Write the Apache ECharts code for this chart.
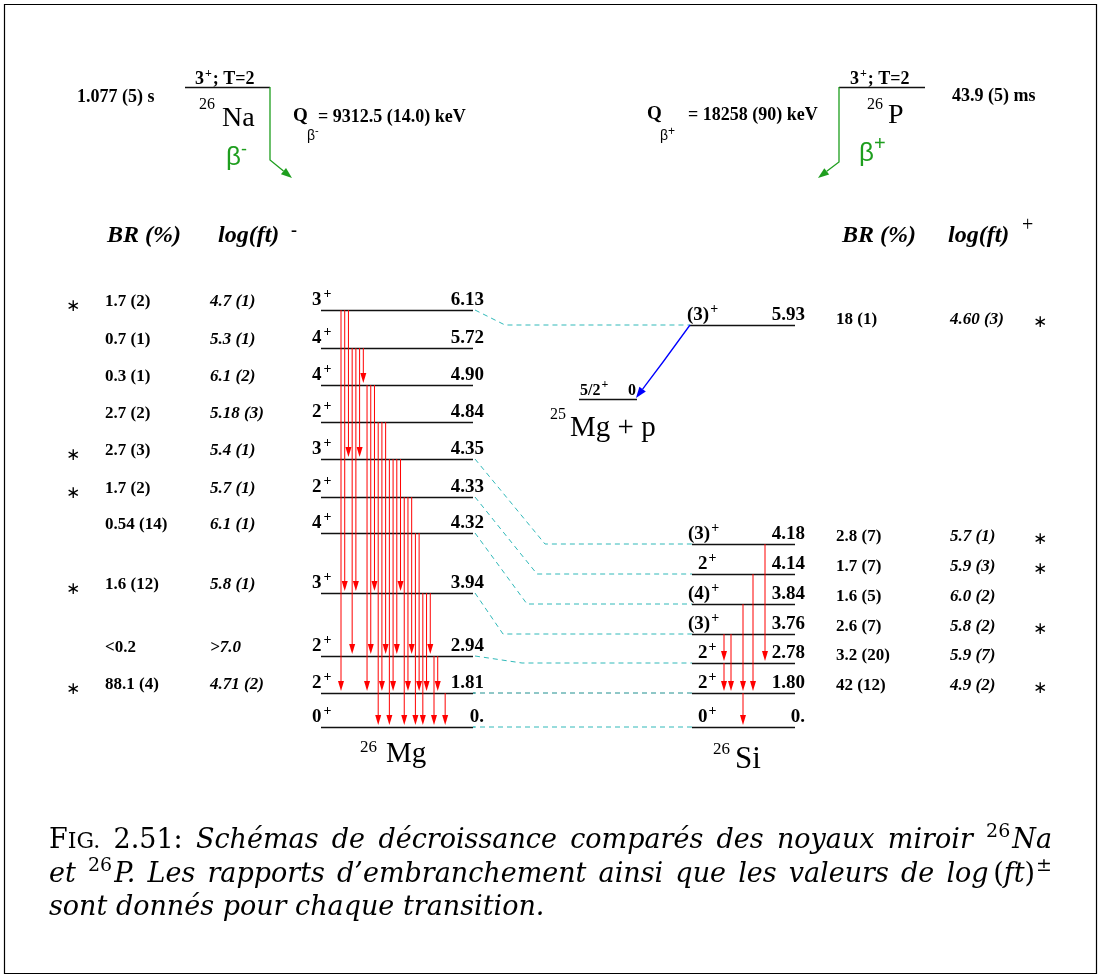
<!DOCTYPE html>
<html><head><meta charset="utf-8"><title>26Na / 26P mirror decay schemes</title>
<script src="https://cdn.jsdelivr.net/npm/echarts@6.0.0/dist/echarts.min.js"></script>
<style>html,body{margin:0;padding:0;background:#fff;}#chart{width:1101px;height:976px;}</style>
</head><body><div id="chart"></div>
<script>
// ================= DATA =================
const naHalfLife = '1.077 (5) s';
const pHalfLife = '43.9 (5) ms';
const naQvalue = '= 9312.5 (14.0) keV';
const pQvalue = '= 18258 (90) keV';
const parentJ = '3';
const parentT = '; T=2';

const mgEnergies = ['6.13','5.72','4.90','4.84','4.35','4.33','4.32','3.94','2.94','1.81','0.'];
const mgSpins    = ['3','4','4','2','3','2','4','3','2','2','0'];
const naBR    = ['1.7 (2)','0.7 (1)','0.3 (1)','2.7 (2)','2.7 (3)','1.7 (2)','0.54 (14)','1.6 (12)','<0.2','88.1 (4)'];
const naLogft = ['4.7 (1)','5.3 (1)','6.1 (2)','5.18 (3)','5.4 (1)','5.7 (1)','6.1 (1)','5.8 (1)','>7.0','4.71 (2)'];
const naStar  = [1,0,0,0,1,1,0,1,0,1];
const mgGammas = [
  ['6.13','1.81'],['6.13','3.94'],['6.13','4.35'],
  ['5.72','2.94'],['5.72','3.94'],['5.72','4.35'],['5.72','4.90'],
  ['4.90','1.81'],['4.90','2.94'],['4.90','3.94'],
  ['4.84','0.'],['4.84','1.81'],['4.84','2.94'],
  ['4.35','0.'],['4.35','1.81'],['4.35','2.94'],['4.35','3.94'],
  ['4.33','0.'],['4.33','1.81'],['4.33','2.94'],
  ['4.32','0.'],['4.32','1.81'],
  ['3.94','0.'],['3.94','1.81'],['3.94','2.94'],
  ['2.94','0.'],['2.94','1.81'],
  ['1.81','0.']
];

const siEnergies = ['4.18','4.14','3.84','3.76','2.78','1.80','0.'];
const siSpins    = ['(3)','2','(4)','(3)','2','2','0'];
const pBR    = ['2.8 (7)','1.7 (7)','1.6 (5)','2.6 (7)','3.2 (20)','42 (12)'];
const pLogft = ['5.7 (1)','5.9 (3)','6.0 (2)','5.8 (2)','5.9 (7)','4.9 (2)'];
const pStar  = [1,1,0,1,0,1];
const siGammas = [['4.18','2.78'],['4.14','1.80'],['3.84','1.80'],['3.76','1.80'],['3.76','2.78'],['2.78','1.80'],['1.80','0.']];

const unboundE = '5.93', unboundJ = '(3)', unboundBR = '18 (1)', unboundLogft = '4.60 (3)', unboundStar = 1;
const finalJ = '5/2', finalE = '0';
const mirrorPairs = [['6.13','5.93'],['4.35','4.18'],['4.33','4.14'],['4.32','3.84'],['3.94','3.76'],['2.94','2.78'],['1.81','1.80'],['0.','0.']];

const captionFig   = ['F','IG.','2.51:'];
const captionLine1 = 'Schémas de décroissance comparés des noyaux miroir';
const captionNuc1  = ['26','Na'];
const captionLine2a = 'et';
const captionNuc2  = ['26','P.'];
const captionLine2b = 'Les rapports d\u2019embranchement ainsi que les valeurs de';
const captionLog   = ['log','(','ft',')','\u00b1'];
const captionLine3 = 'sont donnés pour chaque transition.';

// ================= LAYOUT (schematic positions, px) =================
const mgLevelY = {'6.13':310,'5.72':348,'4.90':385,'4.84':422,'4.35':459,'4.33':497,'4.32':533,'3.94':593,'2.94':656,'1.81':693,'0.':727};
const siLevelY = {'4.18':544,'4.14':574,'3.84':604,'3.76':634,'2.78':663,'1.80':693,'0.':727};
const unboundY = 325, finalY = 399, parentY = 87;
const mgX = [321, 473], siX = [692, 795], unbX = [690, 795], finX = [579, 637];
const naParentX = [185, 270], pParentX = [839, 925];
const mgGammaX = i => 341 + 3.72 * (i + (i === mgGammas.length - 1 ? 1 : 0));
const siGammaX = [765, 753, 743, 731, 724, 724, 743];
const bendX = {'6.13':505,'4.35':545,'4.33':537,'4.32':527,'3.94':503,'2.94':522};

const SERIF = '"Liberation Serif","Times New Roman",serif';
const SANS = '"Liberation Sans",Arial,sans-serif';
const CAPF = '"DejaVu Serif",serif';
const GREEN = '#1e9e1e', RED = '#ff0000', BLUE = '#0000ff', CYAN = '#30b9b9';

// ---------- text helpers ----------
const mctx = document.createElement('canvas').getContext('2d');
function fontStr(p){ return (p.i?'italic ':'') + (p.b?'bold ':'') + p.s + 'px ' + (p.f || SERIF); }
function tw(p){ mctx.font = fontStr(p); return mctx.measureText(p.t).width; }
function runElems(px, py, parts, align){
  const ws = parts.map(p => tw(p) + (p.gap || 0));
  const total = ws.reduce((a,b)=>a+b, 0);
  let x = align === 'right' ? px - total : align === 'center' ? px - total/2 : px;
  const out = [];
  parts.forEach((p,k) => {
    out.push({type:'text', x:x, y:py - 0.34*p.s + (p.dy||0), silent:true,
      style:{text:p.t, font:fontStr(p), fill:p.c || '#000', align:'left', verticalAlign:'middle'}});
    x += ws[k];
  });
  return out;
}
const B  = (t,s,o)=>Object.assign({t,s,b:1},o||{});
const BI = (t,s,o)=>Object.assign({t,s,b:1,i:1},o||{});
const N  = (t,s,o)=>Object.assign({t,s},o||{});
const STAR = (s)=>N('\u2217',s||17,{f:'"DejaVu Sans",sans-serif'});

const texts = [];
function T(x,y,parts,align){ texts.push({x,y,parts,align:align||'left'}); }

// top-left (26Na)
T(77,103,[B(naHalfLife,18)]);
T(195,85,[B(parentJ,18,{gap:1}),B('+',12,{dy:-7,gap:1}),B(parentT,18)]);
T(199,110,[N('26',16)]); T(222,128,[N('Na',28)]);
T(293,123,[B('Q',19)]); T(307,141,[N('\u03b2',14,{f:SANS}),N('-',11,{f:SANS,dy:-6})]); T(318,123,[B(naQvalue,18)]);
T(226,167,[N('\u03b2',26,{f:SANS,c:GREEN}),N('-',18,{f:SANS,c:GREEN,dy:-11})]);
// top-right (26P)
T(647,121,[B('Q',19)]); T(660,141,[N('\u03b2',14,{f:SANS}),N('+',12,{f:SANS,dy:-5})]); T(688,121,[B(pQvalue,18)]);
T(850,85,[B(parentJ,18,{gap:1}),B('+',12,{dy:-7,gap:1}),B(parentT,18)]);
T(867,110,[N('26',16)]); T(888,125,[N('P',28)]);
T(952,102,[B(pHalfLife,18)]);
T(859,163,[N('\u03b2',26,{f:SANS,c:GREEN}),N('+',20,{f:SANS,c:GREEN,dy:-12})]);
// headers
T(107,244,[BI('BR (%)',24)]); T(218,244,[BI('log(ft)',24)]); T(291,237,[B('-',18)]);
T(842,244,[BI('BR (%)',24)]); T(948,244,[BI('log(ft)',24)]); T(1022,233,[N('+',20)]);
// 26Mg levels + 26Na table
mgEnergies.forEach((E,k)=>{
  const yb = mgLevelY[E] - 3;
  T(312,yb,[B(mgSpins[k],19,{gap:2}),B('+',14,{dy:-8})]);
  T(484,yb,[B(E,19)],'right');
  if (k < naBR.length){
    T(105,yb,[B(naBR[k],17)]);
    T(210,yb,[BI(naLogft[k],17)]);
    if (naStar[k]) T(73,yb+5,[STAR()],'center');
  }
});
// 26Si levels + 26P table
siEnergies.forEach((E,k)=>{
  const yb = siLevelY[E] - 3;
  const x0 = siSpins[k][0] === '(' ? 688 : 698;
  T(x0,yb,[B(siSpins[k],19,{gap:1}),B('+',14,{dy:-8})]);
  T(805,yb,[B(E,19)],'right');
  if (k < pBR.length){
    T(836,yb+1,[B(pBR[k],17)]);
    T(950,yb+1,[BI(pLogft[k],17)]);
    if (pStar[k]) T(1040,yb+4,[STAR()],'center');
  }
});
// unbound level
T(687,322,[B(unboundJ,19,{gap:1}),B('+',14,{dy:-8})]);
T(805,322,[B(unboundE,19)],'right');
T(836,325,[B(unboundBR,17)]); T(950,325,[BI(unboundLogft,17)]);
if (unboundStar) T(1040,328,[STAR()],'center');
T(580,396,[B(finalJ,16,{gap:1}),B('+',12,{dy:-7,gap:4})]);
T(636,396,[B(finalE,16)],'right');
T(550,420,[N('25',16)]); T(570,438,[N('Mg + p',29)]);
// nuclide names
T(360,753,[N('26',17)]); T(386,764,[N('Mg',29)]);
T(713,755,[N('26',17)]); T(735,770,[N('Si',31)]);

// ---------- caption (fit + justify) ----------
function capLines(S){
  const it = (t)=>({t, s:S, i:1, f:CAPF});
  const up = (t)=>({t, s:S, f:CAPF});
  const sc = (t)=>({t, s:Math.round(S*0.8), f:CAPF});
  const sup = (t,i)=>({t, s:Math.round(S*0.7), i:i?1:0, f:CAPF, dy:-0.42*S});
  const l1 = [[up(captionFig[0]), sc(captionFig[1])], [up(captionFig[2])]]
    .concat(captionLine1.split(' ').map(w=>[it(w)]))
    .concat([[Object.assign(sup(captionNuc1[0]),{gap:2}), it(captionNuc1[1])]]);
  const l2 = [[it(captionLine2a)], [Object.assign(sup(captionNuc2[0]),{gap:2}), it(captionNuc2[1])]]
    .concat(captionLine2b.split(' ').map(w=>[it(w)]))
    .concat([[Object.assign(it(captionLog[0]),{gap:S*0.17}), up(captionLog[1]), it(captionLog[2]), Object.assign(up(captionLog[3]),{gap:1}), sup(captionLog[4])]]);
  const l3 = captionLine3.split(' ').map(w=>[it(w)]);
  return [l1,l2,l3];
}
function tokW(tok){ return tok.reduce((a,p)=>a+tw(p)+(p.gap||0),0); }
const capLeft = 49, capRight = 1052, capBase = [850, 884, 917];
let capS = 24;
(function(){
  const l1 = capLines(100)[0];
  mctx.font = 'italic 100px ' + CAPF;
  const sp = mctx.measureText(' ').width;
  const nat = l1.reduce((a,t)=>a+tokW(t),0) + sp*(l1.length-1);
  capS = Math.min(27, 100 * (capRight - capLeft) / nat);
})();
const CAP = capLines(capS);

// ================= CHART =================
function arrowHead(tip, from, len, hw){
  const dx = tip[0]-from[0], dy = tip[1]-from[1], L = Math.hypot(dx,dy), ux = dx/L, uy = dy/L;
  const bx = tip[0]-ux*len, by = tip[1]-uy*len;
  return [[tip[0],tip[1]],[bx-uy*hw,by+ux*hw],[bx+uy*hw,by-ux*hw]];
}

const levelData = [];
mgEnergies.forEach(E=>levelData.push([mgX[0], mgLevelY[E], mgX[1]]));
siEnergies.forEach(E=>levelData.push([siX[0], siLevelY[E], siX[1]]));
levelData.push([unbX[0], unboundY, unbX[1]]);
levelData.push([finX[0], finalY, finX[1]]);
levelData.push([naParentX[0], parentY, naParentX[1]]);
levelData.push([pParentX[0], parentY, pParentX[1]]);

const gammaData = mgGammas.map((g,i)=>[mgGammaX(i), mgLevelY[g[0]], mgLevelY[g[1]]])
  .concat(siGammas.map((g,i)=>[siGammaX[i], siLevelY[g[0]], siLevelY[g[1]]]));

const connData = mirrorPairs.map(pr=>{
  const y0 = mgLevelY[pr[0]];
  const y1 = pr[1] === unboundE ? unboundY : siLevelY[pr[1]];
  const x1 = pr[1] === unboundE ? unbX[0] : siX[0];
  const bx = bendX[pr[0]] !== undefined ? bendX[pr[0]] : mgX[1];
  return [mgX[1]+2, y0, bx, y1, x1, y1, pr[0]==='1.81' ? 1 : 0];
});

// decay arrows: [x0,y0,x1,y1,x2,y2,colorIndex]
const decayData = [
  [naParentX[1], parentY, naParentX[1], 160, 292, 178, 0],
  [pParentX[0], parentY, pParentX[0], 162, 818, 178, 0],
  [unbX[0], unboundY, (unbX[0]+finX[1]-1)/2, (unboundY+finalY)/2, finX[1]-1, finalY-1, 1]
];

const option = {
  animation: false,
  backgroundColor: '#fff',
  grid: {left:0, right:0, top:0, bottom:0},
  xAxis: {type:'value', min:0, max:1101, show:false},
  yAxis: {type:'value', min:0, max:976, inverse:true, show:false},
  series: [
    { type:'custom', name:'frame', clip:false, silent:true, data:[[4,4,1096,973]],
      renderItem:(p,api)=>{ const a=api.coord([api.value(0),api.value(1)]), b=api.coord([api.value(2),api.value(3)]);
        return {type:'rect', shape:{x:a[0]+0.5,y:a[1]+0.5,width:b[0]-a[0],height:b[1]-a[1]}, style:{fill:null,stroke:'#000',lineWidth:1.2}}; } },
    { type:'custom', name:'connectors', clip:false, silent:true, data:connData,
      renderItem:(p,api)=>{ const a=api.coord([api.value(0),api.value(1)]), m=api.coord([api.value(2),api.value(3)]), b=api.coord([api.value(4),api.value(5)]);
        return {type:'polyline', shape:{points:[a,m,b]}, style:{fill:null, stroke: api.value(6)?'#1f8f8f':CYAN, lineWidth:1, lineDash:[5,4]}}; } },
    { type:'custom', name:'levels', clip:false, silent:true, data:levelData,
      renderItem:(p,api)=>{ const a=api.coord([api.value(0),api.value(1)]), b=api.coord([api.value(2),api.value(1)]);
        return {type:'line', shape:{x1:a[0],y1:a[1]+0.5,x2:b[0],y2:b[1]+0.5}, style:{stroke:'#111',lineWidth:1.4}}; } },
    { type:'custom', name:'gammas', clip:false, silent:true, data:gammaData,
      renderItem:(p,api)=>{ const a=api.coord([api.value(0),api.value(1)]), b=api.coord([api.value(0),api.value(2)]);
        const tip=[b[0], b[1]-2];
        return {type:'group', children:[
          {type:'line', shape:{x1:a[0],y1:a[1],x2:tip[0],y2:tip[1]-8}, style:{stroke:RED,lineWidth:1}},
          {type:'polygon', shape:{points:arrowHead(tip,[tip[0],tip[1]-20],10,3)}, style:{fill:RED}}
        ]}; } },
    { type:'custom', name:'decays', clip:false, silent:true, data:decayData,
      renderItem:(p,api)=>{ const a=api.coord([api.value(0),api.value(1)]), m=api.coord([api.value(2),api.value(3)]), b=api.coord([api.value(4),api.value(5)]);
        const col = api.value(6) ? BLUE : GREEN;
        const head = arrowHead(b, m, 11, 4);
        const end = [(head[1][0]+head[2][0])/2, (head[1][1]+head[2][1])/2];
        return {type:'group', children:[
          {type:'polyline', shape:{points:[a,m,end]}, style:{fill:null,stroke:col,lineWidth:1.3}},
          {type:'polygon', shape:{points:head}, style:{fill:col}}
        ]}; } },
    { type:'custom', name:'labels', clip:false, silent:true, data:texts.map(t=>[t.x,t.y]),
      renderItem:(p,api)=>{ const t=texts[p.dataIndex]; const c=api.coord([api.value(0),api.value(1)]);
        return {type:'group', children: runElems(c[0], c[1], t.parts, t.align)}; } },
    { type:'custom', name:'caption', clip:false, silent:true, data:capBase.map(y=>[capLeft,y]),
      renderItem:(p,api)=>{ const line=CAP[p.dataIndex]; const c=api.coord([api.value(0),api.value(1)]);
        const ws=line.map(tokW); const sum=ws.reduce((a,b)=>a+b,0);
        mctx.font='italic '+capS+'px '+CAPF; const sp=mctx.measureText(' ').width;
        const gap = p.dataIndex < 2 ? ((capRight-capLeft)-sum)/(line.length-1) : sp;
        let x=c[0]; const kids=[];
        line.forEach((tok,k)=>{ runElems(x, c[1], tok, 'left').forEach(e=>kids.push(e)); x+=ws[k]+gap; });
        return {type:'group', children:kids}; } }
  ]
};
const chart = echarts.init(document.getElementById('chart'), null, {renderer:'canvas'});
chart.setOption(option);
</script>
</body></html>
